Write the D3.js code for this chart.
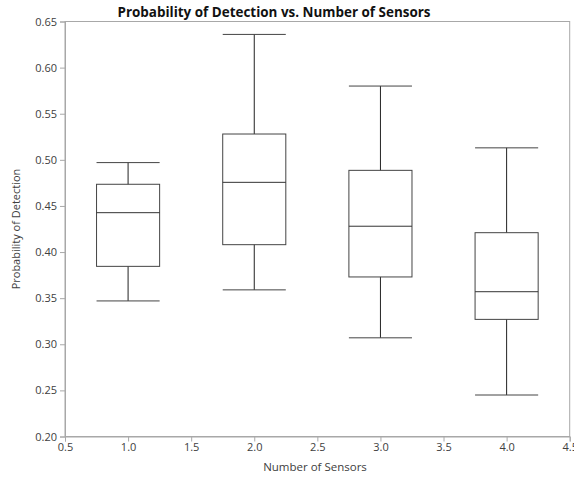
<!DOCTYPE html>
<html>
<head>
<meta charset="utf-8">
<script src="https://cdn.jsdelivr.net/npm/d3@7"></script>
<style>
  html, body { margin: 0; padding: 0; background: #fff; }
  svg { display: block; }
  text { font-family: "Open Sans", "Noto Sans", "DejaVu Sans", sans-serif; }
</style>
</head>
<body>
<svg id="chart" width="574" height="477"></svg>
<script>
// Number of sensors (box positions)
const sensors = [1, 2, 3, 4];
// Five-number summaries of the probability of detection per sensor count
const whiskerLow  = [0.347, 0.359, 0.307, 0.245];
const quartile1   = [0.3845, 0.408, 0.373, 0.327];
const medians     = [0.4427, 0.4756, 0.428, 0.357];
const quartile3   = [0.4735, 0.528, 0.4886, 0.421];
const whiskerHigh = [0.497, 0.636, 0.580, 0.513];
// Axis ticks
const xTicks = [0.5, 1.0, 1.5, 2.0, 2.5, 3.0, 3.5, 4.0, 4.5];
const yTicks = [0.20, 0.25, 0.30, 0.35, 0.40, 0.45, 0.50, 0.55, 0.60, 0.65];

const svg = d3.select("#chart");
const plotLeft = 65, plotRight = 569.7, plotTop = 21.5, plotBottom = 436.5;

const x = d3.scaleLinear().domain([0.5, 4.5]).range([plotLeft, plotRight]);
const y = d3.scaleLinear().domain([0.20, 0.65]).range([plotBottom, plotTop]);
const frameColor = "#a8a8a8";
const halfBox = 0.25; // half-width of each box, in x units

// Frame
svg.append("rect")
  .attr("x", plotLeft).attr("y", plotTop)
  .attr("width", plotRight - plotLeft).attr("height", plotBottom - plotTop)
  .attr("fill", "none").attr("stroke", frameColor).attr("stroke-width", 1);

// Y axis
const yAxis = svg.append("g")
  .attr("transform", `translate(${plotLeft},0)`)
  .call(d3.axisLeft(y).tickValues(yTicks).tickFormat(d3.format(".2f")).tickSize(5).tickPadding(3));
yAxis.select(".domain").attr("stroke", frameColor);
yAxis.selectAll(".tick line").attr("stroke", frameColor);
yAxis.selectAll(".tick text").attr("fill", "#404040").style("font-size", "11px")
  .style("font-family", "'Open Sans', 'Noto Sans', sans-serif");

// X axis
const xAxis = svg.append("g")
  .attr("transform", `translate(0,${plotBottom})`)
  .call(d3.axisBottom(x).tickValues(xTicks).tickFormat(d3.format(".1f")).tickSize(5).tickPadding(2));
xAxis.select(".domain").attr("stroke", frameColor);
xAxis.selectAll(".tick line").attr("stroke", frameColor);
xAxis.selectAll(".tick text").attr("fill", "#404040").style("font-size", "11px")
  .style("font-family", "'Open Sans', 'Noto Sans', sans-serif");

// Box plots
const rows = sensors.map((s, i) => ({
  s, lo: whiskerLow[i], q1: quartile1[i], med: medians[i], q3: quartile3[i], hi: whiskerHigh[i]
}));
const g = svg.append("g").attr("fill", "none").attr("stroke", "#222").attr("stroke-width", 1);
const boxes = g.selectAll("g.box").data(rows).join("g").attr("class", "box");

// whisker stems
boxes.append("line")
  .attr("x1", d => x(d.s)).attr("x2", d => x(d.s))
  .attr("y1", d => y(d.hi)).attr("y2", d => y(d.q3));
boxes.append("line")
  .attr("x1", d => x(d.s)).attr("x2", d => x(d.s))
  .attr("y1", d => y(d.q1)).attr("y2", d => y(d.lo));
// whisker caps
boxes.append("line").attr("stroke", "#444")
  .attr("x1", d => x(d.s - halfBox)).attr("x2", d => x(d.s + halfBox))
  .attr("y1", d => y(d.hi)).attr("y2", d => y(d.hi));
boxes.append("line").attr("stroke", "#444")
  .attr("x1", d => x(d.s - halfBox)).attr("x2", d => x(d.s + halfBox))
  .attr("y1", d => y(d.lo)).attr("y2", d => y(d.lo));
// interquartile box
boxes.append("rect").attr("stroke", "#444")
  .attr("x", d => x(d.s - halfBox)).attr("width", d => x(d.s + halfBox) - x(d.s - halfBox))
  .attr("y", d => y(d.q3)).attr("height", d => y(d.q1) - y(d.q3));
// median
boxes.append("line").attr("stroke", "#333")
  .attr("x1", d => x(d.s - halfBox)).attr("x2", d => x(d.s + halfBox))
  .attr("y1", d => y(d.med)).attr("y2", d => y(d.med));

// Title
svg.append("text")
  .attr("x", 274).attr("y", 17)
  .attr("text-anchor", "middle")
  .attr("fill", "#111")
  .attr("textLength", 313).attr("lengthAdjust", "spacingAndGlyphs")
  .style("font-size", "14.5px").style("font-weight", "bold")
  .text("Probability of Detection vs. Number of Sensors");

// Axis titles
svg.append("text")
  .attr("x", 315).attr("y", 471)
  .attr("text-anchor", "middle").attr("fill", "#404040")
  .style("font-size", "11.5px")
  .text("Number of Sensors");

svg.append("text")
  .attr("transform", `translate(20,${(plotTop + plotBottom) / 2}) rotate(-90)`)
  .attr("text-anchor", "middle").attr("fill", "#404040")
  .style("font-size", "11px")
  .text("Probability of Detection");
</script>
</body>
</html>
